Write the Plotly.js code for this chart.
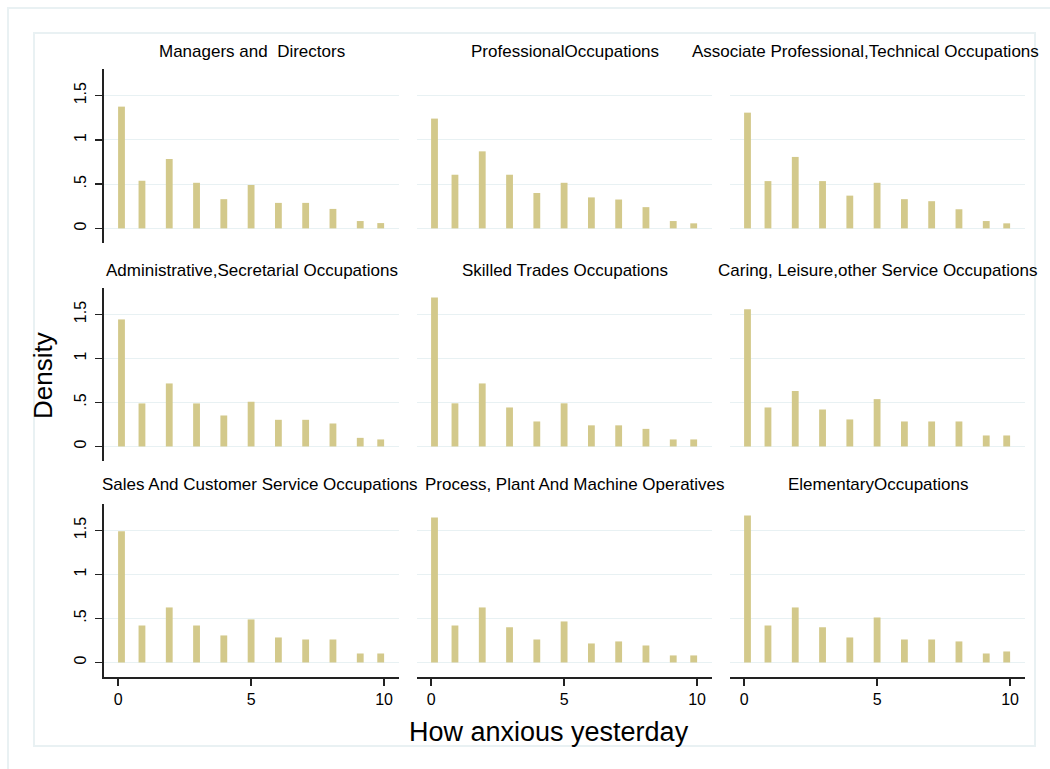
<!DOCTYPE html>
<html>
<head>
<meta charset="utf-8">
<script src="https://cdn.plot.ly/plotly-3.0.1.min.js"></script>
<style>html,body{margin:0;padding:0;background:#fff;}#chart{width:1050px;height:769px;}</style>
</head>
<body>
<div id="chart"></div>
<script>
// Occupation panels (row-major order)
const panelTitles = [
  "Managers and  Directors",
  "ProfessionalOccupations",
  "Associate Professional,Technical Occupations",
  "Administrative,Secretarial Occupations",
  "Skilled Trades Occupations",
  "Caring, Leisure,other Service Occupations",
  "Sales And Customer Service Occupations",
  "Process, Plant And Machine Operatives",
  "ElementaryOccupations"
];
// Histogram bin midpoints (bins of width 10/39) that hold the answers 0..10
const binCenters = [0.128, 0.897, 1.923, 2.949, 3.974, 5.0, 6.026, 7.051, 8.077, 9.103, 9.872];
const binWidth = 0.2564;
// Density per panel
const managers    = [1.375, 0.538, 0.784, 0.515, 0.330, 0.490, 0.288, 0.288, 0.220, 0.083, 0.060];
const professional= [1.240, 0.606, 0.870, 0.606, 0.400, 0.515, 0.350, 0.326, 0.240, 0.083, 0.057];
const associate   = [1.307, 0.534, 0.807, 0.534, 0.370, 0.515, 0.330, 0.307, 0.216, 0.083, 0.057];
const admin       = [1.443, 0.489, 0.716, 0.489, 0.352, 0.508, 0.303, 0.303, 0.261, 0.098, 0.080];
const skilled     = [1.693, 0.490, 0.716, 0.443, 0.284, 0.490, 0.240, 0.240, 0.200, 0.080, 0.080];
const caring      = [1.560, 0.443, 0.630, 0.420, 0.307, 0.538, 0.284, 0.284, 0.284, 0.125, 0.125];
const sales       = [1.490, 0.420, 0.625, 0.420, 0.307, 0.489, 0.284, 0.261, 0.261, 0.102, 0.102];
const process     = [1.648, 0.420, 0.625, 0.400, 0.261, 0.466, 0.216, 0.239, 0.193, 0.080, 0.080];
const elementary  = [1.670, 0.420, 0.625, 0.400, 0.284, 0.511, 0.261, 0.261, 0.239, 0.102, 0.125];
const panelValues = [managers, professional, associate, admin, skilled, caring, sales, process, elementary];
const yTickVals = [0, 0.5, 1, 1.5];
const yTickText = ["0", ".5", "1", "1.5"];
const xTickVals = [0, 5, 10];
const xTickText = ["0", "5", "10"];

const W = 1050, H = 769;
const colPx = [[104, 399], [417, 712], [730, 1025]];
const rowPx = [[69, 243], [288, 461], [504, 677]];
const titleY = [52, 270, 485];
const titleShift = [0, 0, -12, 0, 0, 0, 8, 10, 0];
const FONT = "Liberation Sans, Arial, sans-serif";
const barColor = "#D3C98B";
const gridColor = "#E8F1F3";

const data = [];
const layout = {
  width: W, height: H,
  margin: {l: 0, r: 0, t: 0, b: 0},
  paper_bgcolor: "#fff", plot_bgcolor: "#fff",
  showlegend: false,
  font: {family: FONT, color: "#000", size: 16},
  annotations: [], shapes: []
};

for (let i = 0; i < 9; i++) {
  const r = Math.floor(i / 3), c = i % 3;
  const n = i === 0 ? "" : String(i + 1);
  data.push({
    type: "bar", x: binCenters, y: panelValues[i], width: binWidth,
    xaxis: "x" + n, yaxis: "y" + n,
    marker: {color: barColor, line: {width: 0}},
    hoverinfo: "x+y"
  });
  const xa = {
    domain: [colPx[c][0] / W, colPx[c][1] / W],
    range: [-0.53, 10.56],
    anchor: "y" + n,
    showgrid: false, zeroline: false,
    showline: r === 2, linecolor: "#222", linewidth: 1.6,
    ticks: r === 2 ? "outside" : "", ticklen: 7, tickwidth: 1.6, tickcolor: "#222",
    tickvals: xTickVals, ticktext: xTickText,
    showticklabels: r === 2,
    tickfont: {family: FONT, size: 16, color: "#000"}
  };
  const ya = {
    domain: [1 - rowPx[r][1] / H, 1 - rowPx[r][0] / H],
    range: [-0.165, 1.80],
    anchor: "x" + n,
    showgrid: true, gridcolor: gridColor, gridwidth: 1, zeroline: false,
    showline: c === 0, linecolor: "#222", linewidth: 1.6,
    ticks: c === 0 ? "outside" : "", ticklen: 7, tickwidth: 1.6, tickcolor: "#222",
    tickvals: yTickVals, ticktext: yTickText,
    showticklabels: c === 0, tickangle: -90, ticklabelstandoff: 3,
    tickfont: {family: FONT, size: 16, color: "#000"}
  };
  layout["xaxis" + n] = xa;
  layout["yaxis" + n] = ya;
  layout.annotations.push({
    text: panelTitles[i], xref: "paper", yref: "paper",
    x: (colPx[c][0] + colPx[c][1]) / 2 / W, y: 1 - titleY[r] / H,
    xshift: titleShift[i],
    xanchor: "center", yanchor: "middle", showarrow: false,
    font: {family: FONT, size: 17, color: "#000"}
  });
}

layout.annotations.push({
  text: "How anxious yesterday", xref: "paper", yref: "paper",
  x: 549 / W, y: 1 - 732 / H, xanchor: "center", yanchor: "middle",
  showarrow: false, font: {family: FONT, size: 27, color: "#000"}
});
layout.annotations.push({
  text: "Density", xref: "paper", yref: "paper",
  x: 43 / W, y: 1 - 376 / H, xanchor: "center", yanchor: "middle",
  textangle: -90, showarrow: false, font: {family: FONT, size: 26, color: "#000"}
});

// outer and inner frames
layout.shapes.push({type: "rect", xref: "paper", yref: "paper",
  x0: 8 / W, x1: 1.05, y0: -0.05, y1: 1 - 8 / H,
  line: {color: "#E9F1F3", width: 2}, fillcolor: "rgba(0,0,0,0)", layer: "below"});
layout.shapes.push({type: "rect", xref: "paper", yref: "paper",
  x0: 34 / W, x1: 1035 / W, y0: 1 - 746 / H, y1: 1 - 33 / H,
  line: {color: "#E9F1F3", width: 2}, fillcolor: "rgba(0,0,0,0)", layer: "below"});

Plotly.newPlot("chart", data, layout, {displayModeBar: false, staticPlot: true});
</script>
</body>
</html>
